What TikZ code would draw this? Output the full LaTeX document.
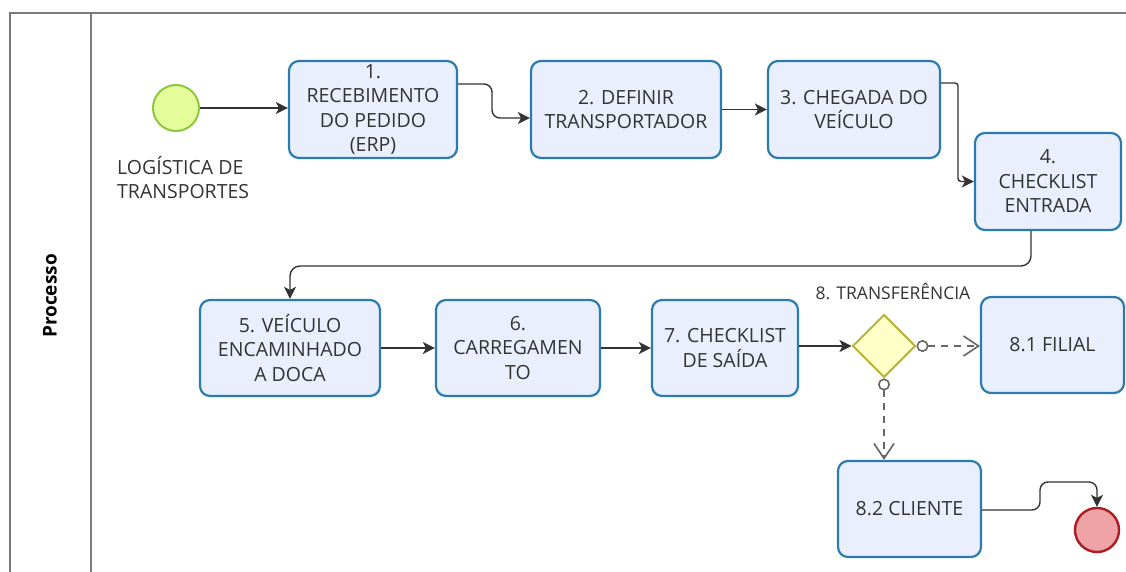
\documentclass[tikz,border=0pt]{standalone}
\usepackage{fontspec}
\setmainfont{Open Sans}
\usepackage{xcolor}
\usetikzlibrary{
    arrows.meta,
    shapes.geometric,
    calc,
    positioning
}
\definecolor{taskfill}{HTML}{EAEFFD}
\definecolor{taskline}{HTML}{2C7BAF}
\definecolor{startfill}{HTML}{E6FD9C}
\definecolor{startline}{HTML}{8DC63F}
\definecolor{endfill}{HTML}{EEA3A6}
\definecolor{endline}{HTML}{AE1C24}
\definecolor{gwfill}{HTML}{FDFFC6}
\definecolor{gwline}{HTML}{B8B43C}
\definecolor{poolline}{HTML}{7A7A7A}
\definecolor{labeltext}{HTML}{333333}
\tikzset{
    task/.style={draw=taskline, fill=taskfill, line width=2.2pt, rounded corners=10pt,
        align=center, text=labeltext, inner sep=2pt,
        font=\fontsize{19.5}{24.5}\selectfont},
    startev/.style={circle, draw=startline, fill=startfill, line width=2pt, minimum size=46pt, inner sep=0pt},
    endev/.style={circle, draw=endline, fill=endfill, line width=2.4pt, minimum size=44pt, inner sep=0pt},
    gateway/.style={diamond, draw=gwline, fill=gwfill, line width=2pt, minimum width=63pt, minimum height=63pt, inner sep=0pt},
    flow/.style={draw=black!80, line width=1.4pt, -{Stealth[length=12pt, width=12pt, inset=3pt]}},
    condflow/.style={draw=black!60, line width=1.6pt, dash pattern=on 7pt off 6pt,
        {Circle[open, length=12pt, width=12pt, line width=1.6pt]}-{Straight Barb[length=15pt, width=20pt, line width=1.6pt]}}
}
\begin{document}
\begin{tikzpicture}[x=1pt, y=-1pt]
    \useasboundingbox (0, 0) rectangle (1126, 572);
    % pool
    \draw[poolline, line width=2pt] (10, 572) -- (10, 13) -- (1126, 13);
    \draw[poolline, line width=2pt] (91, 13) -- (91, 572);
    \node[rotate=90, font=\bfseries\fontsize{19}{22}\selectfont] (lane) at (50, 296) {Processo};

    \node[startev] (inicio) at (176, 108) {};
    \node[anchor=west, align=left, text=labeltext, inner sep=0pt, font=\fontsize{19.5}{24}\selectfont] (inicio label) at (117, 178) {LOGÍSTICA DE\\TRANSPORTES};

    \node[task, minimum width=168pt, minimum height=97pt] (t1) at (373, 109.5) {1.\\RECEBIMENTO\\DO PEDIDO\\(ERP)};
    \node[task, minimum width=190pt, minimum height=97pt] (t2) at (626, 109.5) {2. DEFINIR\\TRANSPORTADOR};
    \node[task, minimum width=172pt, minimum height=97pt] (t3) at (854, 109.5) {3. CHEGADA DO\\VEÍCULO};
    \node[task, minimum width=146pt, minimum height=97pt] (t4) at (1048, 181.5) {4.\\CHECKLIST\\ENTRADA};
    \node[task, minimum width=180pt, minimum height=96pt] (t5) at (290, 348) {5. VEÍCULO\\ENCAMINHADO\\A DOCA};
    \node[task, minimum width=164pt, minimum height=96pt] (t6) at (518, 348) {6.\\CARREGAMEN\\TO};
    \node[task, minimum width=146pt, minimum height=96pt] (t7) at (725, 348) {7. CHECKLIST\\DE SAÍDA};
    \node[gateway] (gw) at (884, 346) {};
    \node[text=labeltext, font=\fontsize{17.5}{20}\selectfont] (gw label) at (893, 291) {8. TRANSFERÊNCIA};
    \node[task, minimum width=143pt, minimum height=96pt] (filial) at (1052.5, 345) {8.1 FILIAL};
    \node[task, minimum width=143pt, minimum height=96pt] (cliente) at (909.5, 509) {8.2 CLIENTE};
    \node[endev] (fim) at (1097, 530) {};

    \draw[flow] (inicio) -- (inicio -| t1.west);
    \draw[flow, rounded corners=8pt] (t1.east |- 0, 84) -- (492, 84) -- (492, 118) -- (t2.west |- 0, 118);
    \draw[flow] (t2) -- (t3);
    \draw[flow, rounded corners=3pt] (t3.east |- 0, 83) -- (958, 83) |- (t4.west);
    \draw[flow, rounded corners=10pt] (1031, 0 |- t4.south) -- (1031, 266) -| (t5.north);
    \draw
    (t5) edge[flow] (t6)
    (t6) edge[flow] (t7)
    (t7.east |- gw) edge[flow] (gw.west);
    \draw[condflow] (gw.east) -- (filial.west |- gw);
    \draw[condflow] (gw.south) -- (gw.south |- cliente.north);
    \draw[flow, rounded corners=8pt] (cliente.east |- 0, 510) -- (1040, 510) -- (1040, 482) -- (1097, 482) -- (fim.north);
\end{tikzpicture}
\end{document}
